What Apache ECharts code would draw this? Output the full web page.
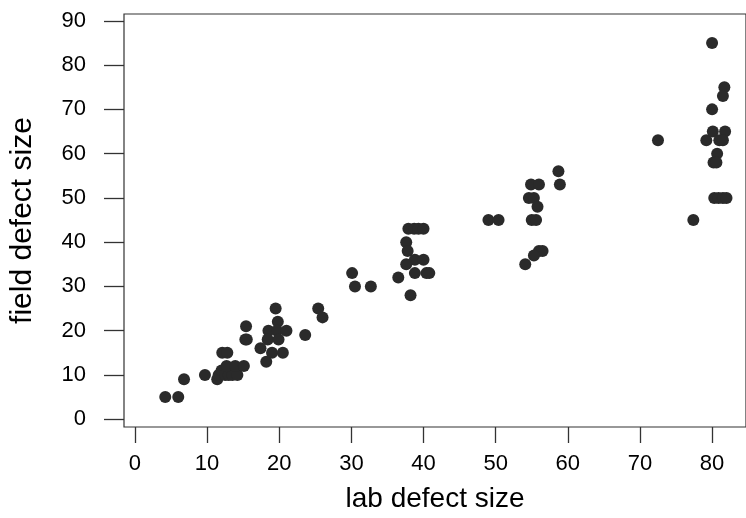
<!DOCTYPE html>
<html>
<head>
<meta charset="utf-8">
<script src="https://cdn.jsdelivr.net/npm/echarts@6/dist/echarts.min.js"></script>
<style>html,body{margin:0;padding:0;background:#fff}#c{width:746px;height:518px}</style>
</head>
<body>
<div id="c"></div>
<script>
// lab defect size (x) and field defect size (y)
const labSize = [
  4.2, 6.0, 6.8, 9.7, 11.4, 11.6, 12.0, 12.5, 13.0, 13.5, 14.2, 12.7, 13.9, 15.1,
  12.1, 12.8, 15.4, 15.3, 15.5, 17.4, 18.2, 19.0, 20.5, 19.5, 19.8,
  18.5, 19.7, 21.0, 18.4, 19.9, 23.6, 25.4, 26.0,
  30.1, 30.5, 32.7, 36.5, 38.2, 37.6, 37.9, 38.7, 39.3, 40.0, 37.8, 38.8, 40.0,
  37.6, 38.8, 40.4, 40.8,
  58.7, 58.9, 54.9, 56.0, 54.6, 55.3, 55.8, 49.0, 50.4, 55.0, 55.6, 56.0, 56.5, 55.3, 54.1,
  80.0, 81.7, 81.5, 80.0, 72.5, 79.2, 80.1, 81.8, 81.0, 81.5, 80.7, 80.2, 80.6,
  80.3, 80.9, 81.5, 82.0, 77.4
];
const fieldSize = [
  5, 5, 9, 10, 9, 10, 11, 10, 10, 10, 10, 12, 12, 12,
  15, 15, 21, 18, 18, 16, 13, 15, 15, 25, 22,
  20, 20, 20, 18, 18, 19, 25, 23,
  33, 30, 30, 32, 28, 40, 43, 43, 43, 43, 38, 36, 36,
  35, 33, 33, 33,
  56, 53, 53, 53, 50, 50, 48, 45, 45, 45, 45, 38, 38, 37, 35,
  85, 75, 73, 70, 63, 63, 65, 65, 63, 63, 60, 58, 58,
  50, 50, 50, 50, 45
];
const xTicks = [0, 10, 20, 30, 40, 50, 60, 70, 80];
const yTicks = [0, 10, 20, 30, 40, 50, 60, 70, 80, 90];
const xTitle = 'lab defect size';
const yTitle = 'field defect size';

const points = labSize.map((v, i) => [v, fieldSize[i]]);
const font = '"Liberation Sans", Arial, sans-serif';

const chart = echarts.init(document.getElementById('c'), null, {renderer: 'canvas'});
chart.setOption({
  animation: false,
  backgroundColor: '#fff',
  grid: {
    left: 121, top: 14, width: 625, height: 420.7,
    show: true, borderColor: '#333', borderWidth: 1.2, backgroundColor: 'transparent'
  },
  xAxis: {
    type: 'value',
    min: -1.52, max: 84.7,
    name: xTitle, nameLocation: 'middle', nameGap: 58,
    nameTextStyle: {fontFamily: font, fontSize: 28, color: '#000'},
    axisLine: {show: false, onZero: false},
    splitLine: {show: false},
    axisTick: {show: true, inside: false, length: 16, customValues: xTicks, lineStyle: {color: '#333', width: 1.3}},
    axisLabel: {margin: 26, customValues: xTicks, fontFamily: font, fontSize: 22, color: '#000'}
  },
  yAxis: {
    type: 'value',
    min: -1.77, max: 91.55,
    name: yTitle, nameLocation: 'middle', nameGap: 86, nameRotate: 90,
    nameTextStyle: {fontFamily: font, fontSize: 30, color: '#000'},
    axisLine: {show: false, onZero: false},
    splitLine: {show: false},
    axisTick: {show: true, inside: false, length: 20, customValues: yTicks, lineStyle: {color: '#333', width: 1.3}},
    axisLabel: {margin: 38, customValues: yTicks, fontFamily: font, fontSize: 22, color: '#000'}
  },
  series: [{
    type: 'scatter',
    data: points,
    symbol: 'circle',
    symbolSize: 12,
    itemStyle: {color: '#2a2a2a', opacity: 1}
  }]
});
</script>
</body>
</html>
